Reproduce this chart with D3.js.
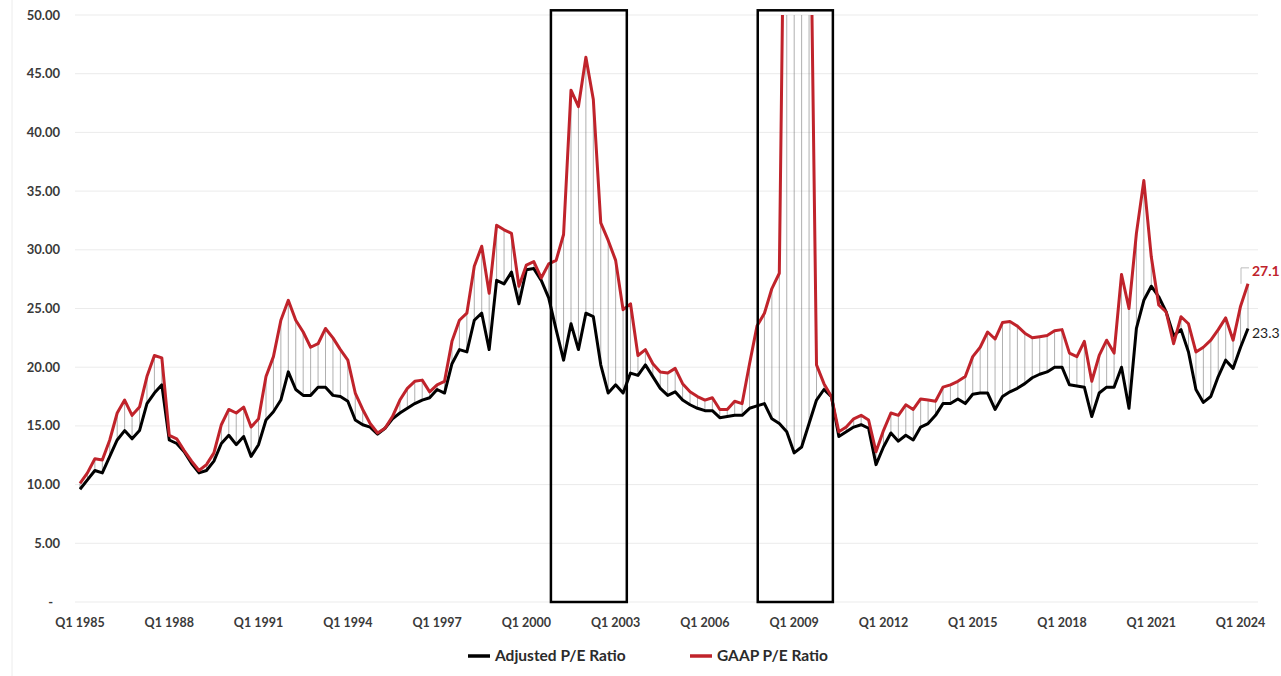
<!DOCTYPE html>
<html>
<head>
<meta charset="utf-8">
<script src="https://cdn.jsdelivr.net/npm/d3@7"></script>
<style>
  body { margin: 0; background: #fff; }
  svg { display: block; font-family: Lato, "Open Sans", sans-serif; }
</style>
</head>
<body>
<div id="chart"></div>
<script>
// quarterly P/E ratios, Q1 1985 .. Q2 2024
const adjusted = [
  9.6, 10.4, 11.2, 11.0, 12.4, 13.8, 14.6, 13.9, 14.6, 16.9, 17.8, 18.5,
  13.8, 13.5, 12.8, 11.8, 11.0, 11.2, 12.0, 13.5, 14.2, 13.4, 14.1, 12.4,
  13.4, 15.5, 16.2, 17.2, 19.6, 18.1, 17.6, 17.6, 18.3, 18.3, 17.6, 17.5,
  17.1, 15.5, 15.1, 14.9, 14.3, 14.8, 15.6, 16.1, 16.5, 16.9, 17.2, 17.4,
  18.1, 17.8, 20.3, 21.5, 21.3, 24.0, 24.6, 21.5, 27.4, 27.1, 28.1, 25.4,
  28.3, 28.4, 27.4, 25.9, 23.2, 20.6, 23.7, 21.5, 24.6, 24.3, 20.2, 17.8,
  18.5, 17.8, 19.5, 19.3, 20.2, 19.2, 18.2, 17.6, 17.9, 17.2, 16.8, 16.5,
  16.3, 16.3, 15.7, 15.8, 15.9, 15.9, 16.5, 16.7, 16.9, 15.6, 15.2, 14.5,
  12.7, 13.2, 15.2, 17.2, 18.1, 17.5, 14.1, 14.5, 14.9, 15.1, 14.8, 11.7,
  13.2, 14.4, 13.7, 14.2, 13.8, 14.9, 15.2, 15.9, 16.9, 16.9, 17.3, 16.9,
  17.7, 17.8, 17.8, 16.4, 17.5, 17.9, 18.2, 18.6, 19.1, 19.4, 19.6, 20.0,
  20.0, 18.5, 18.4, 18.3, 15.8, 17.8, 18.3, 18.3, 20.0, 16.5, 23.3, 25.7,
  26.9, 26.0, 24.7, 22.7, 23.2, 21.3, 18.1, 17.0, 17.5, 19.2, 20.6, 19.9,
  21.7, 23.3
];
const gaap = [
  10.1, 11.0, 12.2, 12.1, 13.8, 16.1, 17.2, 15.9, 16.6, 19.2, 21.0, 20.8,
  14.2, 13.9, 12.9, 12.0, 11.2, 11.7, 12.7, 15.1, 16.4, 16.1, 16.6, 14.9,
  15.6, 19.2, 20.9, 24.0, 25.7, 24.0, 23.0, 21.7, 22.0, 23.3, 22.5, 21.5,
  20.6, 17.8, 16.4, 15.2, 14.4, 14.8, 15.8, 17.2, 18.2, 18.8, 18.9, 17.9,
  18.5, 18.8, 22.2, 24.0, 24.6, 28.6, 30.3, 26.3, 32.1, 31.7, 31.4, 26.9,
  28.7, 29.0, 27.6, 28.8, 29.1, 31.3, 43.6, 42.2, 46.4, 42.8, 32.3, 30.8,
  29.1, 24.9, 25.4, 21.0, 21.5, 20.3, 19.6, 19.5, 19.9, 18.6, 17.9, 17.5,
  17.2, 17.4, 16.4, 16.4, 17.1, 16.9, 20.3, 23.5, 24.6, 26.7, 28.0, 80.0,
  120.0, 110.0, 69.0, 20.2, 18.6, 17.5, 14.5, 14.9, 15.6, 15.9, 15.5, 12.8,
  14.6, 16.1, 15.9, 16.8, 16.4, 17.3, 17.2, 17.1, 18.3, 18.5, 18.8, 19.2,
  20.9, 21.7, 23.0, 22.4, 23.8, 23.9, 23.5, 22.9, 22.5, 22.6, 22.7, 23.1,
  23.2, 21.2, 20.9, 22.2, 18.8, 21.0, 22.3, 21.2, 27.9, 25.0, 31.4, 35.9,
  29.4, 25.3, 24.7, 22.0, 24.3, 23.7, 21.3, 21.7, 22.3, 23.2, 24.2, 22.3,
  25.2, 27.1
];
const xTickLabels = ["Q1 1985", "Q1 1988", "Q1 1991", "Q1 1994", "Q1 1997", "Q1 2000", "Q1 2003",
                     "Q1 2006", "Q1 2009", "Q1 2012", "Q1 2015", "Q1 2018", "Q1 2021", "Q1 2024"];
const yTicks = [0, 5, 10, 15, 20, 25, 30, 35, 40, 45, 50];
const seriesNames = ["Adjusted P/E Ratio", "GAAP P/E Ratio"];
// highlighted periods, in quarter index units
const highlightBoxes = [[63.3, 73.5], [91.1, 101.2]];

const W = 1281, H = 676;
const red = "#c0232b";

const svg = d3.select("#chart").append("svg")
    .attr("width", W)
    .attr("height", H);

const x = d3.scaleLinear().domain([0, adjusted.length - 1]).range([80, 1248]);
const y = d3.scaleLinear().domain([0, 50]).range([602, 15]);

// faint outer border on the left
svg.append("line")
    .attr("x1", 12).attr("x2", 12).attr("y1", 0).attr("y2", H)
    .attr("stroke", "#ececec");

// gridlines
svg.append("g")
    .selectAll("line")
    .data(yTicks)
    .enter().append("line")
    .attr("x1", 75).attr("x2", 1258)
    .attr("y1", d => y(d)).attr("y2", d => y(d))
    .attr("stroke", "#ebebeb")
    .attr("stroke-width", 1);

// y labels
svg.append("g")
    .selectAll("text")
    .data(yTicks)
    .enter().append("text")
    .attr("x", d => d === 0 ? 53 : 60)
    .attr("y", d => y(d))
    .attr("dy", "0.35em")
    .attr("text-anchor", "end")
    .style("font-size", "13px")
    .style("font-weight", "700")
    .style("fill", "#3a3a3a")
    .text(d => d === 0 ? "-" : d3.format(".2f")(d));

// x labels
svg.append("g")
    .selectAll("text")
    .data(xTickLabels)
    .enter().append("text")
    .attr("x", d => x((+d.slice(3) - 1985) * 4))
    .attr("y", 623)
    .attr("dy", "0.35em")
    .attr("text-anchor", "middle")
    .style("font-size", "12.5px")
    .style("font-weight", "700")
    .style("fill", "#3a3a3a")
    .text(d => d);

// clip the plot at 50
svg.append("defs").append("clipPath")
    .attr("id", "plot-clip")
    .append("rect")
    .attr("x", 70).attr("y", y(50))
    .attr("width", 1200).attr("height", y(0) - y(50) + 5);

const plot = svg.append("g").attr("clip-path", "url(#plot-clip)");

// drop lines between the two series
plot.append("g")
    .selectAll("line")
    .data(adjusted)
    .enter().append("line")
    .attr("x1", (d, i) => x(i)).attr("x2", (d, i) => x(i))
    .attr("y1", (d, i) => y(gaap[i]))
    .attr("y2", d => y(d))
    .attr("stroke", "#7a7a7a")
    .attr("stroke-opacity", 0.75)
    .attr("stroke-width", 0.8);

const line = d3.line()
    .x((d, i) => x(i))
    .y(d => y(d));

plot.append("path")
    .datum(adjusted)
    .attr("d", line)
    .attr("fill", "none")
    .attr("stroke", "#000")
    .attr("stroke-width", 3)
    .attr("stroke-linejoin", "round");

plot.append("path")
    .datum(gaap)
    .attr("d", line)
    .attr("fill", "none")
    .attr("stroke", red)
    .attr("stroke-width", 3)
    .attr("stroke-linejoin", "round");

// highlight boxes
svg.append("g")
    .selectAll("rect")
    .data(highlightBoxes)
    .enter().append("rect")
    .attr("x", d => x(d[0]))
    .attr("y", y(50.4))
    .attr("width", d => x(d[1]) - x(d[0]))
    .attr("height", y(0) - y(50.4))
    .attr("fill", "none")
    .attr("stroke", "#000")
    .attr("stroke-width", 2.5);

// end labels
const last = adjusted.length - 1;
svg.append("path")
    .attr("d", `M${x(last) - 7},${y(gaap[last])} V${y(gaap[last]) - 16} H${x(last) + 1}`)
    .attr("fill", "none")
    .attr("stroke", "#bdbdbd")
    .attr("stroke-width", 1);

svg.append("text")
    .attr("x", x(last) + 4)
    .attr("y", y(gaap[last]) - 13)
    .attr("dy", "0.35em")
    .style("font-size", "14px")
    .style("font-weight", "700")
    .style("fill", red)
    .text(gaap[last].toFixed(1));

svg.append("text")
    .attr("x", x(last) + 4)
    .attr("y", y(adjusted[last]) + 5)
    .attr("dy", "0.35em")
    .style("font-size", "14px")
    .style("fill", "#222")
    .text(adjusted[last].toFixed(1));

// legend
const legend = svg.append("g").attr("transform", "translate(0,656)");
const legendItems = [
    { name: seriesNames[0], color: "#000", x: 468 },
    { name: seriesNames[1], color: red, x: 690 }
];
legendItems.forEach(item => {
    legend.append("line")
        .attr("x1", item.x).attr("x2", item.x + 22)
        .attr("y1", 0).attr("y2", 0)
        .attr("stroke", item.color)
        .attr("stroke-width", 3.5);
    legend.append("text")
        .attr("x", item.x + 27)
        .attr("y", 0)
        .attr("dy", "0.35em")
        .style("font-size", "15.5px")
        .style("font-weight", "700")
        .style("fill", "#2b2b2b")
        .text(item.name);
});
</script>
</body>
</html>
